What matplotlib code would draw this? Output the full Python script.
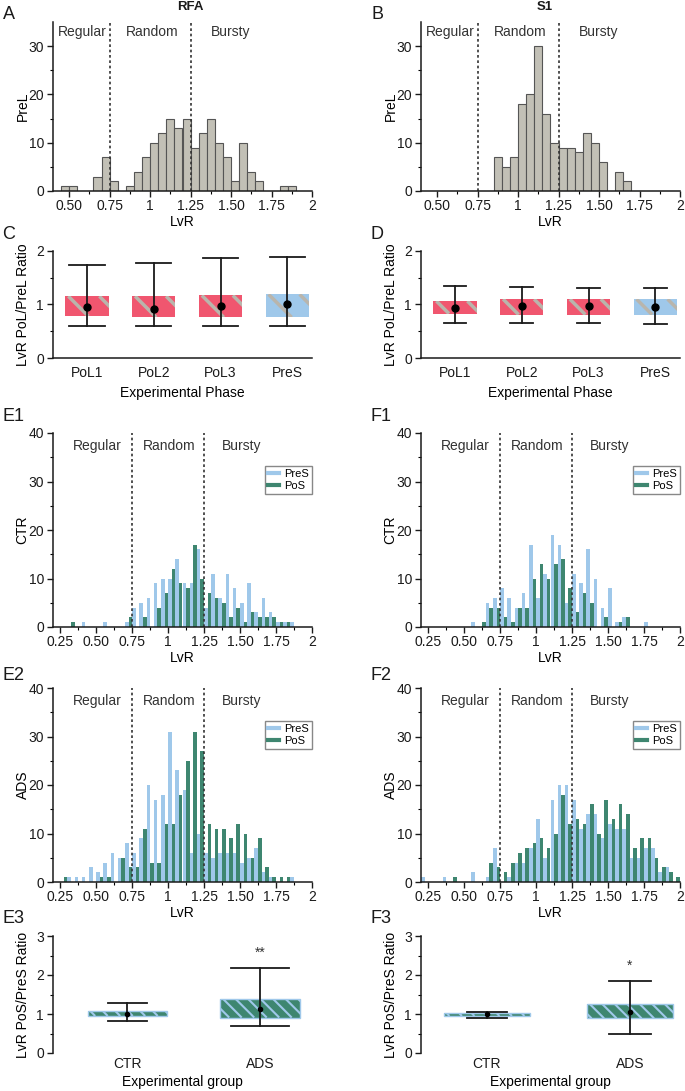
import numpy as np
import matplotlib
matplotlib.use('Agg')
import matplotlib.pyplot as plt
from matplotlib.lines import Line2D
from matplotlib.patches import Rectangle
from matplotlib.transforms import IdentityTransform

plt.rcParams['font.family'] = ['Liberation Sans', 'DejaVu Sans']
plt.rcParams['font.size'] = 10

## ---- data ----
# A / B : PreL histograms (bin left edges, width 0.05)
hist_bins = [0.45, 0.50, 0.55, 0.60, 0.65, 0.70, 0.75, 0.80, 0.85, 0.90,
             0.95, 1.00, 1.05, 1.10, 1.15, 1.20, 1.25, 1.30, 1.35, 1.40,
             1.45, 1.50, 1.55, 1.60, 1.65, 1.70, 1.75, 1.80, 1.85]
rfa_prel = [1, 1, 0, 0, 3, 7, 2, 0, 1, 4, 7, 10, 12, 15, 13, 15, 9, 12, 15, 10,
            7, 2, 10, 4, 2, 0, 0, 1, 1]
s1_prel = [0, 0, 0, 0, 0, 0, 0, 0, 7, 5, 7, 18, 20, 30, 16, 10, 9, 9, 8, 12,
           10, 6, 0, 4, 2, 0, 0, 0, 0]

# C / D : LvR PoL/PreL ratio
phases = ['PoL1', 'PoL2', 'PoL3', 'PreS']
c_q1 = [0.78, 0.76, 0.76, 0.76]
c_q3 = [1.155, 1.155, 1.17, 1.19]
c_mean = [0.95, 0.91, 0.97, 1.005]
c_lo = [0.59, 0.59, 0.60, 0.59]
c_hi = [1.73, 1.77, 1.875, 1.89]

d_q1 = [0.83, 0.81, 0.81, 0.81]
d_q3 = [1.065, 1.10, 1.10, 1.10]
d_mean = [0.94, 0.965, 0.978, 0.947]
d_lo = [0.656, 0.656, 0.656, 0.638]
d_hi = [1.337, 1.33, 1.31, 1.30]

# E / F : PreS vs PoS histograms (bin left edges, width 0.05)
lvr_bins = [0.20, 0.25, 0.30, 0.35, 0.40, 0.45, 0.50, 0.55, 0.60, 0.65,
            0.70, 0.75, 0.80, 0.85, 0.90, 0.95, 1.00, 1.05, 1.10, 1.15,
            1.20, 1.25, 1.30, 1.35, 1.40, 1.45, 1.50, 1.55, 1.60, 1.65,
            1.70, 1.75, 1.80, 1.85, 1.90, 1.95]
e1_pres = [0, 0, 0, 0, 1, 0, 0, 1, 0, 0, 1, 4, 5, 6, 9, 10, 10, 14, 9, 9,
           16, 4, 11, 6, 11, 8, 5, 9, 3, 6, 3, 1, 1, 1, 0, 0]
e1_pos = [0, 0, 1, 0, 0, 0, 0, 0, 0, 0, 2, 0, 2, 0, 4, 7, 12, 9, 8, 17,
          10, 7, 6, 5, 2, 4, 1, 3, 2, 2, 2, 1, 1, 0, 0, 0]
f1_pres = [0, 0, 0, 0, 0, 0, 0, 1, 0, 5, 6, 8, 6, 4, 7, 17, 6, 11, 19, 17,
           5, 11, 9, 16, 10, 4, 8, 1, 2, 0, 0, 1, 0, 0, 0, 0]
f1_pos = [0, 0, 0, 0, 0, 0, 0, 0, 1, 4, 4, 2, 1, 4, 4, 10, 13, 10, 13, 14,
          8, 3, 7, 5, 0, 2, 0, 1, 2, 0, 0, 0, 0, 0, 0, 0]
e2_pres = [0, 0, 1, 1, 1, 3, 2, 4, 6, 5, 8, 6, 9, 20, 17, 18, 31, 23, 19, 6,
           10, 6, 5, 6, 6, 6, 4, 5, 7, 2, 1, 0, 0, 1, 0, 0]
e2_pos = [0, 1, 0, 0, 0, 0, 1, 1, 0, 5, 3, 3, 11, 4, 4, 12, 12, 18, 25, 31,
          27, 12, 11, 11, 9, 12, 10, 5, 9, 3, 1, 1, 1, 0, 0, 0]
f2_pres = [1, 0, 0, 1, 0, 0, 0, 2, 0, 1, 7, 0, 1, 4, 4, 7, 13, 5, 17, 20,
           20, 17, 11, 14, 14, 9, 12, 11, 11, 5, 5, 7, 7, 2, 3, 0]
f2_pos = [0, 0, 0, 0, 1, 0, 0, 0, 0, 4, 3, 2, 4, 6, 7, 8, 9, 7, 10, 18,
          12, 13, 12, 16, 10, 17, 13, 16, 14, 7, 9, 9, 5, 3, 2, 1]

# E3 / F3 : LvR PoS/PreS ratio
groups = ['CTR', 'ADS']
e3_q1 = [0.95, 0.91]
e3_q3 = [1.07, 1.38]
e3_mean = [1.0, 1.12]
e3_lo = [0.82, 0.70]
e3_hi = [1.27, 2.18]
e3_sig = ['', '**']

f3_q1 = [0.95, 0.89]
f3_q3 = [1.015, 1.25]
f3_mean = [0.99, 1.04]
f3_lo = [0.905, 0.50]
f3_hi = [1.05, 1.845]
f3_sig = ['', '*']

## ---- colours ----
GRAY = '#c2c0b6'
RED = '#f0566f'
STRIPE_GRAY = '#b9b5ac'
BLUE = '#9fc8ea'
GREEN = '#3e8670'
INK = '#1a1a1a'

W, H = 685, 1091
fig = plt.figure(figsize=(W / 100, H / 100), dpi=100)


def px_axes(left, top, right, bottom):
    return fig.add_axes([left / W, 1 - bottom / H, (right - left) / W, (bottom - top) / H])


def style(ax):
    for s in ['top', 'right']:
        ax.spines[s].set_visible(False)
    for s in ['left', 'bottom']:
        ax.spines[s].set_linewidth(1.1)
        ax.spines[s].set_color(INK)
    ax.tick_params(direction='out', length=4, width=1.0, colors=INK, labelsize=10)
    ax.tick_params(axis='x', pad=1.5)
    ax.tick_params(axis='y', pad=2.5)
    ax.tick_params(which='minor', length=2.2, width=0.8)
    ax.yaxis.set_label_coords(-0.09, 0.5)


def panel_letter(txt, x, y):
    fig.text(x / W, 1 - y / H, txt, fontsize=13, ha='left', va='top', color=INK)


def region_text(ax, xs, yv):
    for lab, xv in zip(['Regular', 'Random', 'Bursty'], xs):
        ax.text(xv, yv, lab, ha='center', va='center', fontsize=10, color='#333333')


def add_stripes(ax, rect, color, step, lw, phase=0.0):
    # diagonal stripes (top-left to bottom-right) clipped to rect, in pixel space
    (x0, y0), (x1, y1) = ax.transData.transform(
        [(rect.get_x(), rect.get_y()),
         (rect.get_x() + rect.get_width(), rect.get_y() + rect.get_height())])
    h = y1 - y0
    start = x0 + phase - step * np.ceil((h + phase) / step + 1)
    for xs in np.arange(start, x1 + step, step):
        ln = Line2D([xs, xs + h], [y1, y0], color=color, lw=lw,
                    transform=IdentityTransform(), solid_capstyle='butt', zorder=2)
        ax.add_artist(ln)
        ln.set_clip_path(rect)


def ratio_boxes(ax, q1, q3, mean, lo, hi, colors, stripe_col, width, cap, step, slw,
                phase, ms, edge='none'):
    for i in range(len(q1)):
        xc = i + 1
        r = Rectangle((xc - width / 2, q1[i]), width, q3[i] - q1[i],
                      facecolor=colors[i], edgecolor='none', zorder=1)
        ax.add_patch(r)
        add_stripes(ax, r, stripe_col, step, slw, phase)
        if edge != 'none':
            ax.add_patch(Rectangle((xc - width / 2, q1[i]), width, q3[i] - q1[i],
                                   facecolor='none', edgecolor=edge, lw=1.0, zorder=2))
        ax.plot([xc, xc], [lo[i], hi[i]], color=INK, lw=1.3, zorder=3)
        cw = cap[i]
        ax.plot([xc - cw / 2, xc + cw / 2], [hi[i], hi[i]], color=INK, lw=1.3, zorder=3)
        ax.plot([xc - cw / 2, xc + cw / 2], [lo[i], lo[i]], color=INK, lw=1.3, zorder=3)
        ax.plot(xc, mean[i], 'o', color='black', ms=ms, zorder=4)


## ---- A / B ----
for left, counts, title, tx, letter in [(53, rfa_prel, 'RFA', 190, 'A'),
                                        (421, s1_prel, 'S1', 545, 'B')]:
    ax = px_axes(left, 22, left + 259, 191)
    style(ax)
    b = [x for x, c in zip(hist_bins, counts) if c > 0]
    c = [c for c in counts if c > 0]
    ax.bar(b, c, width=0.05, align='edge', color=GRAY, edgecolor='#555555', lw=0.8)
    ax.set_xlim(0.4, 2.0)
    ax.set_ylim(0, 35)
    ax.set_xticks([0.5, 0.75, 1, 1.25, 1.5, 1.75, 2],
                  ['0.50', '0.75', '1', '1.25', '1.50', '1.75', '2'])
    ax.set_xticks([0.625, 0.875, 1.125, 1.375, 1.625, 1.875], minor=True)
    ax.set_yticks([0, 10, 20, 30])
    ax.set_yticks([5, 15, 25], minor=True)
    for xv in [0.75, 1.25]:
        ax.axvline(xv, color='#333333', lw=1.2, ls=(0, (1.6, 1.6)))
    region_text(ax, [0.58, 1.01, 1.5], 33.0)
    ax.set_ylabel('PreL')
    ax.set_xlabel('LvR', labelpad=2)
    fig.text(tx / W, 1 - 7 / H, title, ha='center', va='center', fontsize=9.5,
             fontweight='bold', color=INK)
    panel_letter(letter, left - 50, 6)

## ---- C / D ----
for left, q1, q3, mean, lo, hi, cap, letter in [
        (53, c_q1, c_q3, c_mean, c_lo, c_hi, 0.53, 'C'),
        (421, d_q1, d_q3, d_mean, d_lo, d_hi, 0.34, 'D')]:
    ax = px_axes(left, 251, left + 259, 358)
    style(ax)
    ax.set_xlim(0.49, 4.37)
    ax.set_ylim(0, 2)
    ratio_boxes(ax, q1, q3, mean, lo, hi, [RED, RED, RED, BLUE], STRIPE_GRAY,
                0.65, [cap] * 4, 31, 2.5, 3, 5)
    ax.set_xticks([1, 2, 3, 4], phases)
    ax.tick_params(axis='x', length=0, pad=6)
    ax.set_yticks([0, 1, 2])
    ax.set_yticks([0.5, 1.5], minor=True)
    ax.set_ylabel('LvR PoL/PreL Ratio')
    ax.set_xlabel('Experimental Phase', labelpad=4)
    panel_letter(letter, left - 51, 226)

## ---- E1 / F1 / E2 / F2 ----
for left, top, pre, pos, ylab, letter, ly in [
        (53, 433, e1_pres, e1_pos, 'CTR', 'E1', 408),
        (421, 433, f1_pres, f1_pos, 'CTR', 'F1', 408),
        (53, 688, e2_pres, e2_pos, 'ADS', 'E2', 667),
        (421, 688, f2_pres, f2_pos, 'ADS', 'F2', 667)]:
    ax = px_axes(left, top, left + 259, top + 194)
    style(ax)
    bx = np.array(lvr_bins)
    ax.bar(bx, pre, width=0.025, align='edge', color=BLUE, lw=0)
    ax.bar(bx + 0.025, pos, width=0.025, align='edge', color=GREEN, lw=0)
    ax.set_xlim(0.2, 2.0)
    ax.set_ylim(0, 40)
    ax.set_xticks([0.25, 0.5, 0.75, 1, 1.25, 1.5, 1.75, 2],
                  ['0.25', '0.50', '0.75', '1', '1.25', '1.50', '1.75', '2'])
    ax.set_xticks([0.375, 0.625, 0.875, 1.125, 1.375, 1.625, 1.875], minor=True)
    ax.set_yticks([0, 10, 20, 30, 40])
    ax.set_yticks([5, 15, 25, 35], minor=True)
    for xv in [0.75, 1.25]:
        ax.axvline(xv, color='#333333', lw=1.2, ls=(0, (1.6, 1.6)))
    region_text(ax, [0.51, 1.01, 1.51], 37.4)
    handles = [Line2D([], [], color=BLUE, lw=3), Line2D([], [], color=GREEN, lw=3)]
    leg = ax.legend(handles, ['PreS', 'PoS'], loc='upper right',
                    bbox_to_anchor=(1.0, 0.83), fontsize=8, fancybox=False,
                    edgecolor='#888888', framealpha=1, handlelength=1.0,
                    handletextpad=0.4, borderpad=0.3, labelspacing=0.15,
                    borderaxespad=0)
    leg.get_frame().set_linewidth(1.0)
    ax.set_ylabel(ylab)
    ax.set_xlabel('LvR', labelpad=2)
    panel_letter(letter, left - 51, ly)

## ---- E3 / F3 ----
for left, xlim, q1, q3, mean, lo, hi, caps, sig, letter in [
        (53, (0.44, 2.39), e3_q1, e3_q3, e3_mean, e3_lo, e3_hi, [0.29, 0.44], e3_sig, 'E3'),
        (421, (0.54, 2.35), f3_q1, f3_q3, f3_mean, f3_lo, f3_hi, [0.28, 0.29], f3_sig, 'F3')]:
    ax = px_axes(left, 936, left + 259, 1053)
    style(ax)
    ax.spines['bottom'].set_visible(False)
    ax.set_xlim(*xlim)
    ax.set_ylim(0, 3)
    ratio_boxes(ax, q1, q3, mean, lo, hi, [GREEN, GREEN], BLUE,
                0.6, caps, 12.5, 1.5, 3, 3, edge=BLUE)
    for i, s in enumerate(sig):
        if s:
            ax.text(i + 1, hi[i] + 0.4, s, ha='center', va='center', fontsize=10,
                    color='#333333')
    ax.set_xticks([1, 2], groups)
    ax.tick_params(axis='x', length=0, pad=3)
    ax.set_yticks([0, 1, 2, 3])
    ax.set_yticks([0.5, 1.5, 2.5], minor=True)
    ax.set_ylabel('LvR PoS/PreS Ratio')
    ax.set_xlabel('Experimental group', labelpad=3)
    panel_letter(letter, left - 51, 910)

fig.savefig('out.png', dpi=100)
